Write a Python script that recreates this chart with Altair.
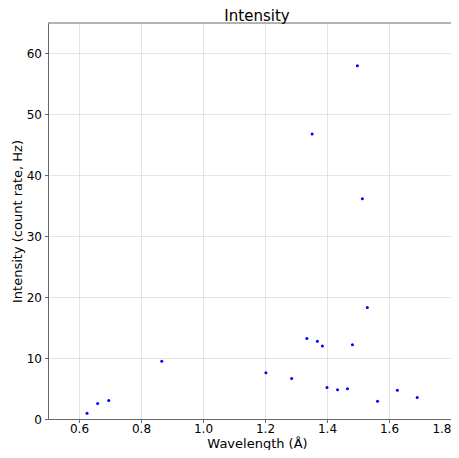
import altair as alt
import pandas as pd

wavelength = [0.626, 0.660, 0.696, 0.867, 1.203, 1.286, 1.335, 1.352, 1.369, 1.385,
              1.400, 1.434, 1.466, 1.482, 1.498, 1.514, 1.530, 1.563, 1.627, 1.691]
intensity = [0.95, 2.55, 3.03, 9.47, 7.58, 6.66, 13.2, 46.8, 12.77, 12.0,
             5.19, 4.82, 4.98, 12.18, 58.0, 36.15, 18.3, 2.92, 4.7, 3.52]

x_ticks = [0.6, 0.8, 1.0, 1.2, 1.4, 1.6, 1.8]
y_ticks = [0, 10, 20, 30, 40, 50, 60]
title_text = "Intensity"

df = pd.DataFrame({"wavelength": wavelength, "intensity": intensity})

W, H = 403, 396
FONT = "DejaVu Sans"
AX = "#666666"

points = alt.Chart(df).mark_circle(color="#0000ff", size=9, opacity=1).encode(
    x=alt.X("wavelength:Q",
            scale=alt.Scale(domain=[0.5, 1.8], nice=False, zero=False),
            axis=alt.Axis(values=x_ticks, format=".1f", title="Wavelength (Å)",
                          titleX=209, titleY=28.5, titleBaseline="alphabetic",
                          titleAlign="center", titleFontSize=13, labelPadding=0.5)),
    y=alt.Y("intensity:Q",
            scale=alt.Scale(domain=[0, 65], nice=False),
            axis=alt.Axis(values=y_ticks, format="d", title="Intensity (count rate, Hz)",
                          titleX=-27, titleY=198, titleBaseline="alphabetic",
                          titleAlign="center", labelPadding=3)),
)

one = pd.DataFrame({"a": [0]})

top_line = alt.Chart(one).mark_rule(color=AX, strokeWidth=1).encode(
    x=alt.value(0), x2=alt.value(W), y=alt.value(0)
)

title = alt.Chart(one).mark_text(
    font=FONT, fontSize=15, color="black", align="center", baseline="alphabetic"
).encode(x=alt.value(209), y=alt.value(-2.5), text=alt.value(title_text))

chart = alt.layer(points, top_line, title).properties(
    width=W, height=H,
    autosize=alt.AutoSizeParams(type="none"),
    padding={"left": 40, "top": 15, "right": 0, "bottom": 31},
).configure_view(stroke=None).configure_axis(
    labelFont=FONT, titleFont=FONT, labelFontSize=12, titleFontSize=13,
    labelColor="black", titleColor="black", titleFontWeight="normal",
    domainColor=AX, tickColor=AX, tickSize=3.5, gridColor="#dddddd",
    gridWidth=0.8, domainWidth=1,
)

chart.save("out.html", embed_options={"renderer": "svg", "actions": False})
